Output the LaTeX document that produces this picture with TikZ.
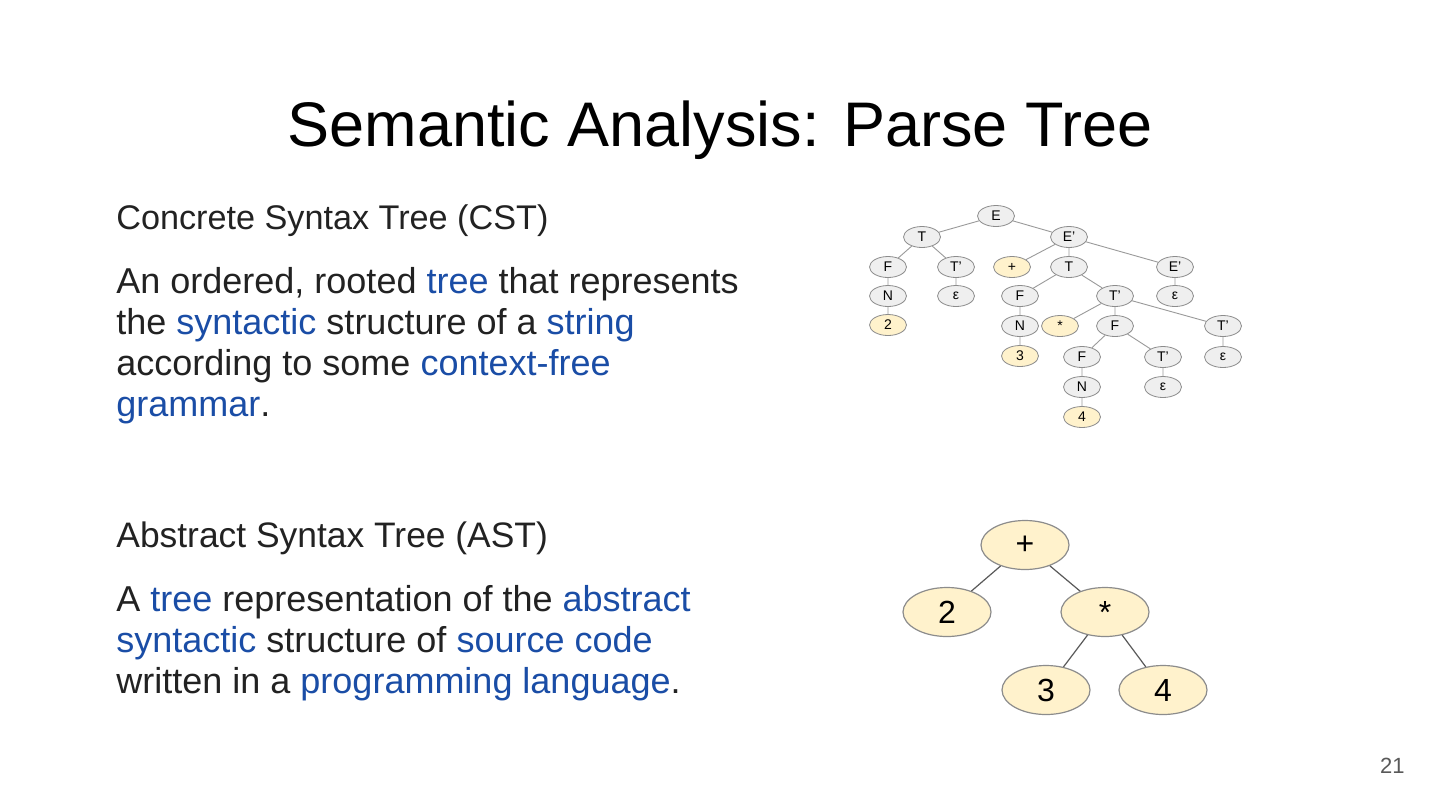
\documentclass[tikz,border=0pt]{standalone}
\usepackage{fontspec}
\setmainfont{Liberation Sans}
\usepackage{xcolor}
\usetikzlibrary{shapes.geometric,positioning}
\definecolor{inkdark}{HTML}{222222}
\definecolor{linkblue}{HTML}{1A4DA6}
\definecolor{nodegray}{HTML}{EFEFEF}
\definecolor{nodeyellow}{HTML}{FFF2CC}
\definecolor{rimgray}{HTML}{8C8C8C}
\definecolor{edgegray}{HTML}{9A9A9A}
\newcommand{\lnk}[1]{\textcolor{linkblue}{#1}}

\begin{document}
\begin{tikzpicture}[x=0.5pt,y=-0.5pt,
  cst/.style={ellipse,draw=rimgray,line width=0.4pt,fill=nodegray,
    minimum width=18.5pt,minimum height=10.5pt,inner sep=0pt,
    font=\fontsize{7}{8}\selectfont},
  cstleaf/.style={cst,fill=nodeyellow},
  ast/.style={ellipse,draw=rimgray,line width=0.6pt,fill=nodeyellow,
    minimum width=44pt,minimum height=24.5pt,inner sep=0pt,
    font=\fontsize{16}{18}\selectfont},
  body/.style={anchor=base west,align=left,inner sep=0pt,text=inkdark,
    font=\fontsize{18}{20.5}\selectfont},
  twig/.style={draw=edgegray,line width=0.45pt},
  limb/.style={draw=black!65,line width=0.6pt}]
\useasboundingbox[fill=white] (0,0) rectangle (1440,810);

% title and text (base of a paragraph is its last line)
\node[anchor=base,inner sep=0pt,font=\fontsize{31.5}{36}\selectfont] (title)
  at (720,146) {Semantic Analysis: Parse Tree};
\node[body,font=\fontsize{17.1}{20.5}\selectfont] (csthead) at (116,229)
  {Concrete Syntax Tree (CST)};
\node[body] (cstdef) at (116,416) {An ordered, rooted \lnk{tree} that represents\\
  the \lnk{syntactic} structure of a \lnk{string}\\
  according to some \lnk{context-free}\\
  \lnk{grammar}.};
\node[body,font=\fontsize{17.7}{20.5}\selectfont] (asthead) at (116,547)
  {Abstract Syntax Tree (AST)};
\node[body] (astdef) at (116,693) {A \lnk{tree} representation of the \lnk{abstract}\\
  \lnk{syntactic} structure of \lnk{source code}\\
  written in a \lnk{programming language}.};
\node[anchor=base east,inner sep=0pt,text=black!65,font=\fontsize{11}{12}\selectfont]
  (pageno) at (1405,773) {21};

% concrete syntax tree
\node[cst] (e) at (996,216) {E};
\node[cst] (t1) at (922,237) {T};
\node[cst] (ep1) at (1069,237) {E'};
\node[cst] (f1) at (888,267) {F};
\node[cst] (tp1) at (956,267) {T'};
\node[cstleaf] (plus) at (1012,267) {+};
\node[cst] (t2) at (1069,267) {T};
\node[cst] (ep2) at (1175,267) {E'};
\node[cst] (n1) at (888,296) {N};
\node[cst] (eps1) at (956,296) {ε};
\node[cst] (f2) at (1020,296) {F};
\node[cst] (tp2) at (1115,296) {T'};
\node[cst] (eps2) at (1175,296) {ε};
\node[cstleaf] (two) at (888,325) {2};
\node[cst] (n2) at (1020,326) {N};
\node[cstleaf] (star) at (1060,326) {*};
\node[cst] (f3) at (1115,326) {F};
\node[cst] (tp3) at (1223,326) {T'};
\node[cstleaf] (three) at (1020,356) {3};
\node[cst] (f4) at (1082,357) {F};
\node[cst] (tp4) at (1163,357) {T'};
\node[cst] (eps3) at (1223,357) {ε};
\node[cst] (n3) at (1082,387) {N};
\node[cst] (eps4) at (1163,387) {ε};
\node[cstleaf] (four) at (1082,417) {4};
\path[twig] (e)--(t1) (e)--(ep1)
  (t1)--(f1) (t1)--(tp1) (f1)--(n1) (n1)--(two) (tp1)--(eps1)
  (ep1)--(plus) (ep1)--(t2) (ep1)--(ep2) (ep2)--(eps2)
  (t2)--(f2) (t2)--(tp2) (f2)--(n2) (n2)--(three)
  (tp2)--(star) (tp2)--(f3) (tp2)--(tp3) (tp3)--(eps3)
  (f3)--(f4) (f3)--(tp4) (f4)--(n3) (n3)--(four) (tp4)--(eps4);

% abstract syntax tree
\node[ast] (aplus) at (1025,545) {+};
\node[ast] (atwo) at (947,612) {2};
\node[ast] (astar) at (1105,612) {*};
\node[ast] (athree) at (1046,690) {3};
\node[ast] (afour) at (1163,690) {4};
\path[limb] (aplus)--(atwo) (aplus)--(astar)
  (astar)--(athree) (astar)--(afour);
\end{tikzpicture}
\end{document}
